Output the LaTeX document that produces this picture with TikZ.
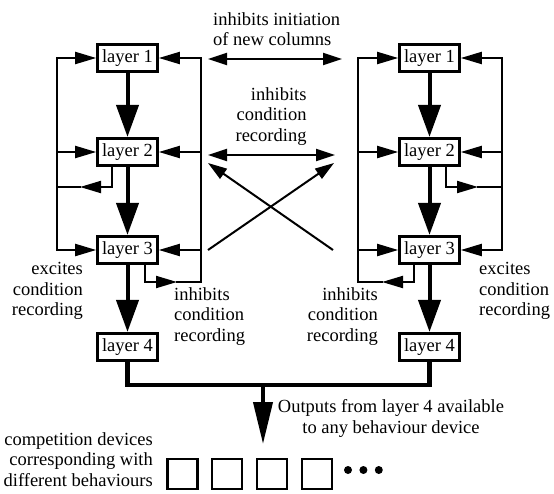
\documentclass[tikz,border=0pt]{standalone}
\usepackage{fontspec}
\setmainfont{Liberation Serif}
\usetikzlibrary{arrows.meta,positioning}

\begin{document}
\begin{tikzpicture}[x=1pt,y=-1pt,
    every node/.style={font=\fontsize{18.5}{20.5}\selectfont},
    layer/.style={draw,line width=2.6pt,minimum width=60pt,minimum height=27.5pt,inner sep=0pt},
    device/.style={draw,line width=2.2pt,minimum size=30pt,inner sep=0pt},
    blob/.style={circle,fill,minimum size=8pt,inner sep=0pt},
    note/.style={inner sep=0pt},
    wire/.style={line width=2pt,line cap=rect},
    feed/.style={wire,-{Triangle[length=21pt,width=12pt]}},
    both/.style={line width=2pt,{Triangle[length=19pt,width=12pt]}-{Triangle[length=19pt,width=12pt]}},
    cross/.style={line width=2pt,-{Triangle[length=19pt,width=12pt]}},
    down/.style={line width=4pt,-{Triangle[length=32pt,width=22pt]}},
    bus/.style={line width=4.5pt,line join=miter}]
    \useasboundingbox (0,0) rectangle (554,493);
    % left column
    \node[layer] (l1) at (127.5,58) {layer 1};
    \node[layer] (l2) at (127.5,152) {layer 2};
    \node[layer] (l3) at (127.5,250) {layer 3};
    \node[layer] (l4) at (127.5,347) {layer 4};
    % right column
    \node[layer] (r1) at (429.5,58) {layer 1};
    \node[layer] (r2) at (429.5,152) {layer 2};
    \node[layer] (r3) at (429.5,250) {layer 3};
    \node[layer] (r4) at (429.5,347) {layer 4};
    % side rails
    \coordinate (lw) at (57,58);   \coordinate (lwb) at (57,250);
    \coordinate (le) at (201,58);  \coordinate (leb) at (201,282);
    \coordinate (rw) at (358,58);  \coordinate (rwb) at (358,282);
    \coordinate (re) at (502,58);  \coordinate (reb) at (502,250);
    \draw[wire] (lw) -- (lwb);
    \draw[wire] (le) -- (leb);
    \draw[wire] (rw) -- (rwb);
    \draw[wire] (re) -- (reb);
    \foreach \n in {1,2,3} {
        \draw[feed] (lw |- l\n) -- (l\n);
        \draw[feed] (le |- l\n) -- (l\n);
        \draw[feed] (rw |- r\n) -- (r\n);
        \draw[feed] (re |- r\n) -- (r\n);
    }
    % loops back from layers 2 and 3
    \coordinate (lf2) at (80,187);
    \coordinate (lf3) at (177,282);
    \coordinate (rf2) at (478,187);
    \coordinate (rf3) at (382,282);
    \draw[feed] ([xshift=-15.5pt]l2.south) |- (lf2);
    \draw[wire] (lf2) -- (lw |- lf2);
    \draw[feed] ([xshift=17.5pt]l3.south) |- (lf3);
    \draw[wire] (lf3) -- (leb);
    \draw[feed] ([xshift=16pt]r2.south) |- (rf2);
    \draw[wire] (rf2) -- (re |- rf2);
    \draw[feed] ([xshift=-15.5pt]r3.south) |- (rf3);
    \draw[wire] (rf3) -- (rwb);
    % layer to layer
    \draw[down] (l1) -- (l2);
    \draw[down] (l2) -- (l3);
    \draw[down] (l3) -- (l4);
    \draw[down] (r1) -- (r2);
    \draw[down] (r2) -- (r3);
    \draw[down] (r3) -- (r4);
    % between the columns
    \coordinate (ta) at (208,59);  \coordinate (tb) at (342,59);
    \coordinate (ma) at (208,155); \coordinate (mb) at (335,155);
    \coordinate (xa) at (208,250); \coordinate (xb) at (334,163);
    \coordinate (xc) at (333,250); \coordinate (xd) at (208,163);
    \draw[both] (ta) -- (tb);
    \draw[both] (ma) -- (mb);
    \draw[cross] (xa) -- (xb);
    \draw[cross] (xc) -- (xd);
    % outputs
    \coordinate (bl) at (127.5,385);
    \coordinate (br) at (429.5,385);
    \coordinate (bm) at (263,385);
    \coordinate (out) at (263,444);
    \draw[bus] (l4) -- (bl) -- (br) -- (r4);
    \draw[line width=4pt,-{Triangle[length=42pt,width=19pt]}] (bm) -- (out);
    % competition devices
    \node[device] (d1) at (182.5,474) {};
    \node[device,right=12.5pt of d1] (d2) {};
    \node[device,right=12.5pt of d2] (d3) {};
    \node[device,right=12.5pt of d3] (d4) {};
    \node[blob] (e1) at (348,470) {};
    \node[blob,right=7pt of e1] (e2) {};
    \node[blob,right=7pt of e2] (e3) {};
    % labels
    \node[note,anchor=north west,align=left] (tinit) at (213,12.4) {inhibits initiation\\of new columns};
    \node[note,anchor=north east,align=right] (tcond) at (306.7,87.4) {inhibits\\condition\\recording};
    \node[note,anchor=north east,align=right] (lexc) at (83,262.4) {excites\\condition\\recording};
    \node[note,anchor=north west,align=left] (linh) at (174,287.4) {inhibits\\condition\\recording};
    \node[note,anchor=north east,align=right] (rinh) at (378,287.4) {inhibits\\condition\\recording};
    \node[note,anchor=north west,align=left] (rexc) at (479,262.4) {excites\\condition\\recording};
    \node[note,anchor=north,align=center] (tout) at (391,399.4) {Outputs from layer 4 available\\to any behaviour device};
    \node[note,anchor=north east,align=right] (tcomp) at (153,432.4) {competition devices\\corresponding with\\different behaviours};
\end{tikzpicture}
\end{document}
